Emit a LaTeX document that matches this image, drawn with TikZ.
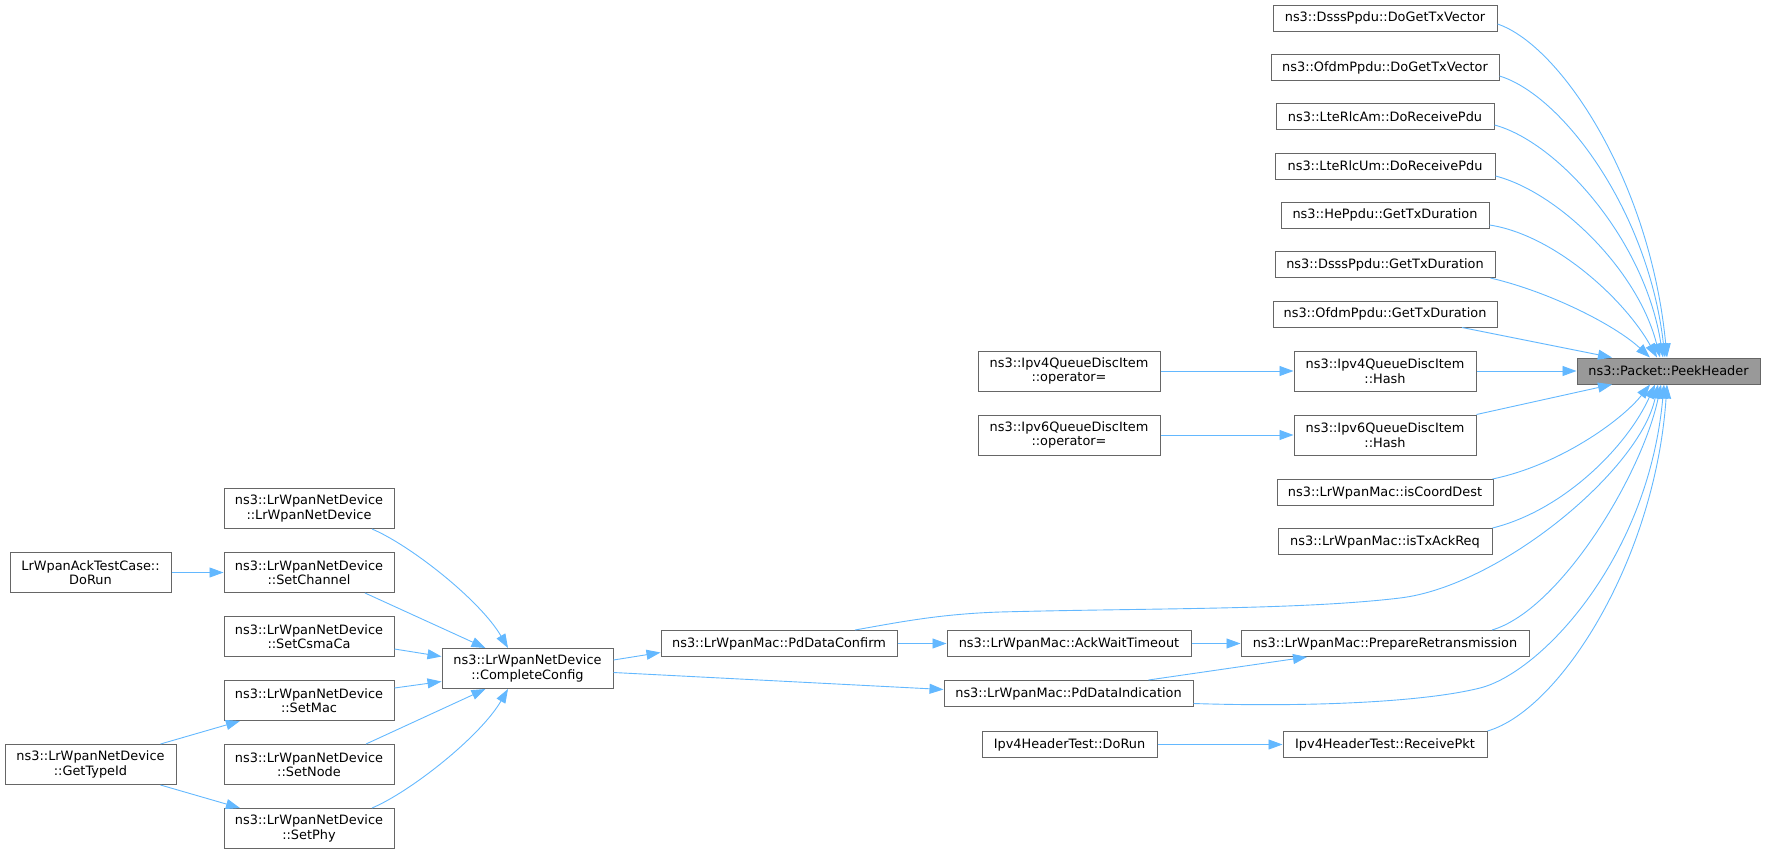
\documentclass[tikz,border=0pt]{standalone}
\usepackage{fontspec}
\setmainfont{DejaVu Sans}
\usetikzlibrary{arrows.meta}
\definecolor{edgeblue}{HTML}{63B8FF}
\definecolor{boxline}{HTML}{666666}
\definecolor{peekfill}{HTML}{999999}
\begin{document}
\begin{tikzpicture}[x=1pt,y=-1pt,
  fn/.style={draw=boxline, fill=white, line width=1pt, inner sep=0pt, align=center,
             font=\fontsize{12.9pt}{14.5pt}\selectfont},
  one/.style={minimum height=26pt},
  two/.style={minimum height=40pt},
  hl/.style={fn, fill=peekfill},
  call/.style={draw=edgeblue, line width=0.9pt, -{Triangle[length=14pt,width=10pt]}}
]
\useasboundingbox (0,0) rectangle (1765,854);

% rank 0
\node[hl, one, minimum width=183pt] (peek) at (1668.5,371) {ns3::Packet::PeekHeader};

% rank 1
\node[fn, one, minimum width=224pt] (r1) at (1385,18) {ns3::DsssPpdu::DoGetTxVector};
\node[fn, one, minimum width=228pt] (r2) at (1385,67.5) {ns3::OfdmPpdu::DoGetTxVector};
\node[fn, one, minimum width=218pt] (r3) at (1385,116.5) {ns3::LteRlcAm::DoReceivePdu};
\node[fn, one, minimum width=220pt] (r4) at (1385,166) {ns3::LteRlcUm::DoReceivePdu};
\node[fn, one, minimum width=208pt] (r5) at (1385,215) {ns3::HePpdu::GetTxDuration};
\node[fn, one, minimum width=220pt] (r6) at (1385,264.5) {ns3::DsssPpdu::GetTxDuration};
\node[fn, one, minimum width=224pt] (r7) at (1385,314) {ns3::OfdmPpdu::GetTxDuration};
\node[fn, two, minimum width=182pt] (v4h) at (1385,371) {ns3::Ipv4QueueDiscItem\\::Hash};
\node[fn, two, minimum width=182pt] (v6h) at (1385,435) {ns3::Ipv6QueueDiscItem\\::Hash};
\node[fn, one, minimum width=216pt] (coord) at (1385,492.5) {ns3::LrWpanMac::isCoordDest};
\node[fn, one, minimum width=214pt] (txack) at (1385,541.5) {ns3::LrWpanMac::isTxAckReq};
\node[fn, one, minimum width=288pt] (prep) at (1385,643.5) {ns3::LrWpanMac::PrepareRetransmission};
\node[fn, one, minimum width=204pt] (recv) at (1385,744.5) {Ipv4HeaderTest::ReceivePkt};

% rank 2
\node[fn, two, minimum width=182pt] (v4op) at (1069,371) {ns3::Ipv4QueueDiscItem\\::operator=};
\node[fn, two, minimum width=182pt] (v6op) at (1069,435) {ns3::Ipv6QueueDiscItem\\::operator=};
\node[fn, one, minimum width=244pt] (ack) at (1069,643.5) {ns3::LrWpanMac::AckWaitTimeout};
\node[fn, one, minimum width=249pt] (pdind) at (1068.5,693.5) {ns3::LrWpanMac::PdDataIndication};
\node[fn, one, minimum width=175pt] (dorun) at (1069.5,744.5) {Ipv4HeaderTest::DoRun};

% rank 3
\node[fn, one, minimum width=236pt] (pdconf) at (779,643.5) {ns3::LrWpanMac::PdDataConfirm};

% rank 4
\node[fn, two, minimum width=171pt] (complete) at (527.5,668.5) {ns3::LrWpanNetDevice\\::CompleteConfig};

% rank 5
\node[fn, two, minimum width=170pt] (ctor) at (309,508.5) {ns3::LrWpanNetDevice\\::LrWpanNetDevice};
\node[fn, two, minimum width=170pt] (setchan) at (309,572.5) {ns3::LrWpanNetDevice\\::SetChannel};
\node[fn, two, minimum width=170pt] (setcsma) at (309,636.5) {ns3::LrWpanNetDevice\\::SetCsmaCa};
\node[fn, two, minimum width=170pt] (setmac) at (309,700.5) {ns3::LrWpanNetDevice\\::SetMac};
\node[fn, two, minimum width=170pt] (setnode) at (309,764.5) {ns3::LrWpanNetDevice\\::SetNode};
\node[fn, two, minimum width=170pt] (setphy) at (309,828.5) {ns3::LrWpanNetDevice\\::SetPhy};

% rank 6
\node[fn, two, minimum width=161pt] (acktest) at (90.5,572.5) {LrWpanAckTestCase::\\DoRun};
\node[fn, two, minimum width=171pt] (gettype) at (90.5,764.5) {ns3::LrWpanNetDevice\\::GetTypeId};

% edges into PeekHeader from above
\draw[call] ([shift={(0,6)}]r1.east) .. controls (1560,45) and (1650,180) .. ([shift={(-1.5,0)}]peek.north);
\draw[call] ([shift={(0,8.5)}]r2.east) .. controls (1562,95) and (1648,210) .. ([shift={(-3.5,0)}]peek.north);
\draw[call] ([shift={(0,8.5)}]r3.east) .. controls (1558,142) and (1645,240) .. ([shift={(-5.5,0)}]peek.north);
\draw[call] ([shift={(0,10)}]r4.east) .. controls (1558,192) and (1638,270) .. ([shift={(-8.5,0)}]peek.north);
\draw[call] ([shift={(0,10)}]r5.east) .. controls (1555,235) and (1625,300) .. ([shift={(-11.5,0)}]peek.north);
\draw[call] ([shift={(-5,0)}]r6.south east) .. controls (1550,292) and (1615,325) .. ([shift={(-18.5,0)}]peek.north);
\draw[call] ([shift={(77,0)}]r7.south) -- ([shift={(-56.5,0)}]peek.north);
\draw[call] (v4h.east) -- (peek.west);

% edges into PeekHeader from below
\draw[call] (v6h.north east) -- ([shift={(-56.5,0)}]peek.south);
\draw[call] ([shift={(-1,0)}]coord.north east) .. controls (1560,465) and (1622,420) .. ([shift={(-18.5,0)}]peek.south);
\draw[call] (txack.north east) .. controls (1565,510) and (1628,445) .. ([shift={(-13.5,0)}]peek.south);
\draw[call] ([shift={(76,0)}]pdconf.north) .. controls (900,622) and (940,614) .. (1000,612)
  .. controls (1150,608) and (1300,610) .. (1400,598)
  .. controls (1500,586) and (1640,470) .. ([shift={(-10.5,0)}]peek.south);
\draw[call] ([shift={(107,0)}]prep.north) .. controls (1560,610) and (1642,475) .. ([shift={(-7.5,0)}]peek.south);
\draw[call] ([shift={(0,10)}]pdind.east) .. controls (1300,707) and (1420,703) .. (1480,688)
  .. controls (1540,673) and (1648,560) .. ([shift={(-4.5,0)}]peek.south);
\draw[call] (recv.north east) .. controls (1560,710) and (1655,560) .. ([shift={(-1.5,0)}]peek.south);

% middle edges
\draw[call] (v4op.east) -- (v4h.west);
\draw[call] (v6op.east) -- (v6h.west);
\draw[call] (ack.east) -- (prep.west);
\draw[call] ([shift={(80,0)}]pdind.north) -- ([shift={(-78,0)}]prep.south);
\draw[call] (dorun.east) -- (recv.west);
\draw[call] (pdconf.east) -- (ack.west);
\draw[call] ([shift={(0,-8.5)}]complete.east) -- ([shift={(0,9)}]pdconf.west);
\draw[call] ([shift={(0,4)}]complete.east) -- ([shift={(0,-4)}]pdind.west);

% left edges
\draw[call] ([shift={(63,0)}]ctor.south) .. controls (410,545) and (480,600) .. ([shift={(-19.5,0)}]complete.north);
\draw[call] ([shift={(56,0)}]setchan.south) -- ([shift={(-42,0)}]complete.north);
\draw[call] ([shift={(0,12.5)}]setcsma.east) -- ([shift={(0,-12)}]complete.west);
\draw[call] ([shift={(0,-12.5)}]setmac.east) -- ([shift={(0,13)}]complete.west);
\draw[call] ([shift={(57,0)}]setnode.north) -- ([shift={(-42,0)}]complete.south);
\draw[call] ([shift={(63,0)}]setphy.north) .. controls (410,792) and (480,737) .. ([shift={(-19.5,0)}]complete.south);
\draw[call] (acktest.east) -- (setchan.west);
\draw[call] ([shift={(70,0)}]gettype.north) -- ([shift={(-69,0)}]setmac.south);
\draw[call] ([shift={(70,0)}]gettype.south) -- ([shift={(-69,0)}]setphy.north);
\end{tikzpicture}
\end{document}
